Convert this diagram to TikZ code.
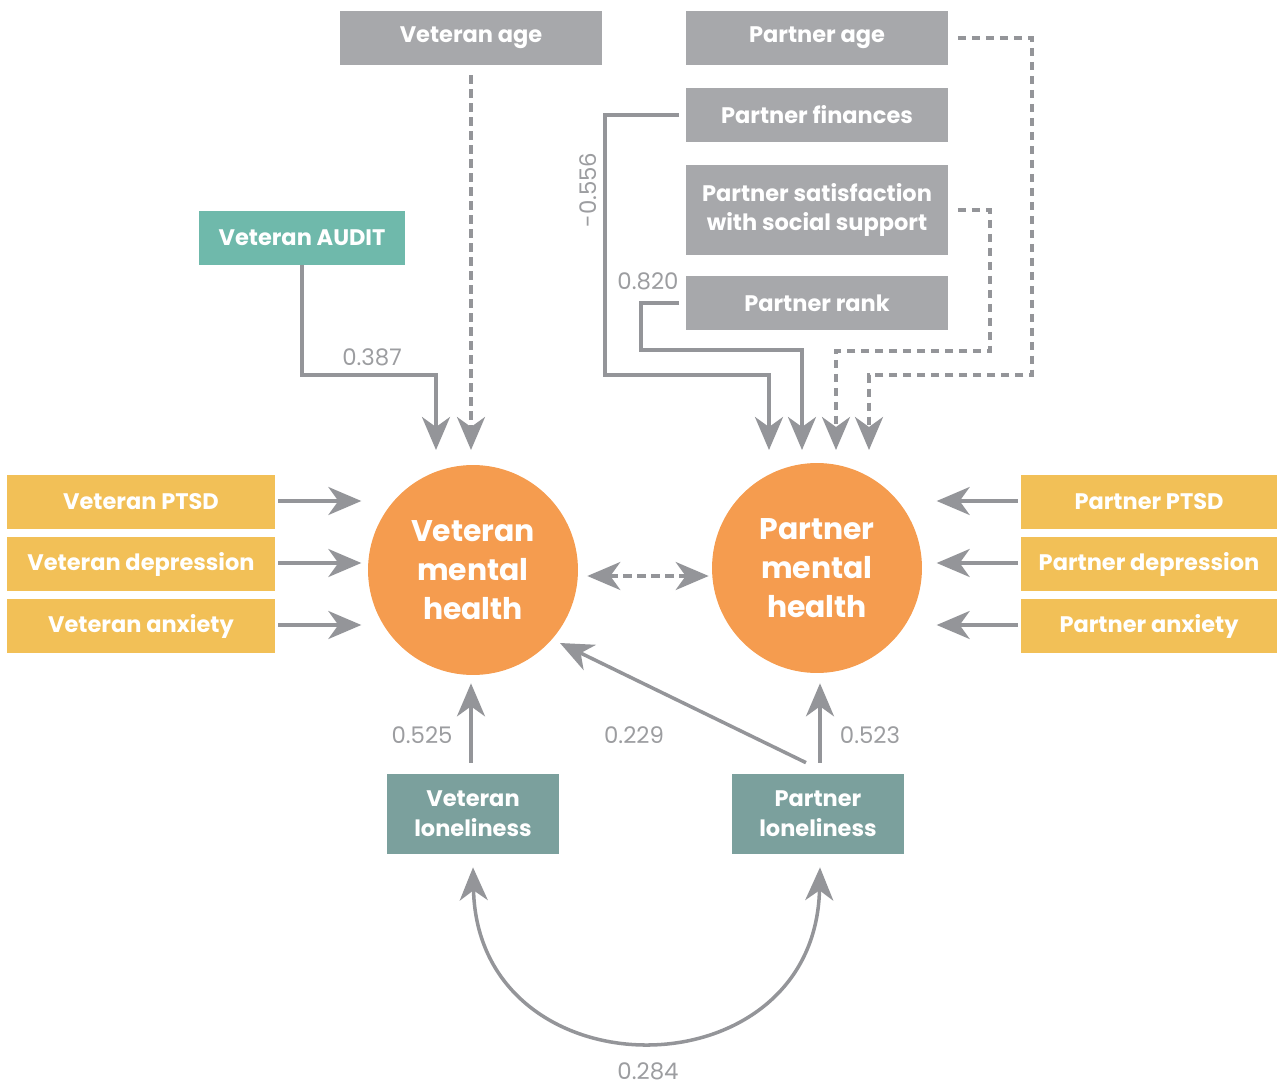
\documentclass[tikz,border=0pt]{standalone}
\usepackage{fontspec}
\setmainfont{Poppins}
\usetikzlibrary{arrows.meta,calc}
\definecolor{boxgray}{HTML}{A7A8AB}
\definecolor{arrgray}{HTML}{949599}
\definecolor{auditc}{HTML}{6FB9AB}
\definecolor{yelc}{HTML}{F2C057}
\definecolor{orngc}{HTML}{F59C4F}
\definecolor{lonec}{HTML}{7BA09D}
\definecolor{lblc}{HTML}{9C9DA0}
\begin{document}
\begin{tikzpicture}[x=0.02cm,y=-0.02cm,
  box/.style={rectangle, inner sep=0pt, text=white, align=center,
    font=\fontsize{12.8}{17}\selectfont\bfseries},
  graybox/.style={box, fill=boxgray, minimum width=5.26cm, minimum height=1.08cm},
  yelbox/.style={box, fill=yelc, minimum height=1.08cm},
  lonebox/.style={box, fill=lonec, minimum width=3.44cm, minimum height=1.6cm},
  mhcirc/.style={circle, fill=orngc, minimum size=4.2cm, inner sep=0pt, text=white, align=center,
    font=\fontsize{17}{22}\selectfont\bfseries},
  arr/.style={draw=arrgray, line width=2pt, -{Stealth[length=0.66cm,width=0.56cm,inset=0.2cm]}},
  darr/.style={arr, dash pattern=on 0.17cm off 0.11cm},
  lbl/.style={text=lblc, font=\fontsize{13}{15}\selectfont, inner sep=0pt}
]
\useasboundingbox (0,0) rectangle (1277,1088);

% top gray boxes
\node[graybox] (vage) at (471,38) {Veteran age};
\node[graybox] (page) at (817,38) {Partner age};
\node[graybox] (pfin) at (817,115) {Partner finances};
\node[graybox, minimum height=1.82cm] (psat) at (817,210) {Partner satisfaction\\with social support};
\node[graybox] (prank) at (817,303) {Partner rank};
\node[box, fill=auditc, minimum width=4.14cm, minimum height=1.08cm] (audit) at (302,238) {Veteran AUDIT};

% side boxes
\node[yelbox, minimum width=5.36cm] (vptsd) at (141,502) {Veteran PTSD};
\node[yelbox, minimum width=5.36cm] (vdep) at (141,564) {Veteran depression};
\node[yelbox, minimum width=5.36cm] (vanx) at (141,626) {Veteran anxiety};
\node[yelbox, minimum width=5.12cm] (pptsd) at (1149,502) {Partner PTSD};
\node[yelbox, minimum width=5.12cm] (pdep) at (1149,564) {Partner depression};
\node[yelbox, minimum width=5.12cm] (panx) at (1149,626) {Partner anxiety};

% circles
\node[mhcirc] (vmh) at (473,570) {Veteran\\mental\\health};
\node[mhcirc] (pmh) at (817,568) {Partner\\mental\\health};

% loneliness
\node[lonebox] (vl) at (473,814) {Veteran\\loneliness};
\node[lonebox] (pl) at (818,814) {Partner\\loneliness};

% top connectors
\draw[arr] (audit.south) |- (436,375) -- (436,450);
\draw[darr] ($(vage.south)+(0,10)$) -- (471,450);
\draw[arr] ($(pfin.west)+(-6,0)$) -| (605,375) -| (769,450);
\draw[arr] ($(prank.west)+(-6,0)$) -| (641,350) -| (802,450);
\draw[darr] ($(psat.east)+(9,0)$) -| (990,351) -| (836,450);
\draw[darr] ($(page.east)+(9,0)$) -| (1032,375) -| (869,450);

% side arrows
\foreach \b in {vptsd,vdep,vanx}{
  \draw[arr] ($(\b.east)+(3,-1)$) -- ($(\b.east)+(86,-1)$);
}
\foreach \b in {pptsd,pdep,panx}{
  \draw[arr] ($(\b.west)+(-3,-1)$) -- ($(\b.west)+(-84,-1)$);
}

% between circles
\draw[darr, {Stealth[length=0.66cm,width=0.56cm,inset=0.2cm]}-{Stealth[length=0.66cm,width=0.56cm,inset=0.2cm]}]
  ($(vmh.east)+(9,6)$) -- ($(pmh.west)+(-3,8)$);

% loneliness arrows
\draw[arr] ($(vl.north)+(-2,-11)$) -- ($(vmh.south)+(-2,8)$);
\draw[arr] ($(pl.north)+(2,-11)$) -- ($(pmh.south)+(3,10)$);
\draw[arr] ($(pl.north)+(-12,-11)$) -- (560,643);
\draw[arr, {Stealth[length=0.66cm,width=0.56cm,inset=0.2cm]}-{Stealth[length=0.66cm,width=0.56cm,inset=0.2cm]}]
  ($(vl.south)+(0,13)$) .. controls (478,1097) and (815,1097) .. ($(pl.south)+(2,13)$);

% labels
\node[lbl] (l387) at (372,357) {0.387};
\node[lbl, rotate=90] (l556) at (588,190) {-0.556};
\node[lbl] (l820) at (648,281) {0.820};
\node[lbl] (l525) at (422,735) {0.525};
\node[lbl] (l229) at (634,735) {0.229};
\node[lbl] (l523) at (870,735) {0.523};
\node[lbl] (l284) at (648,1071) {0.284};
\end{tikzpicture}
\end{document}
